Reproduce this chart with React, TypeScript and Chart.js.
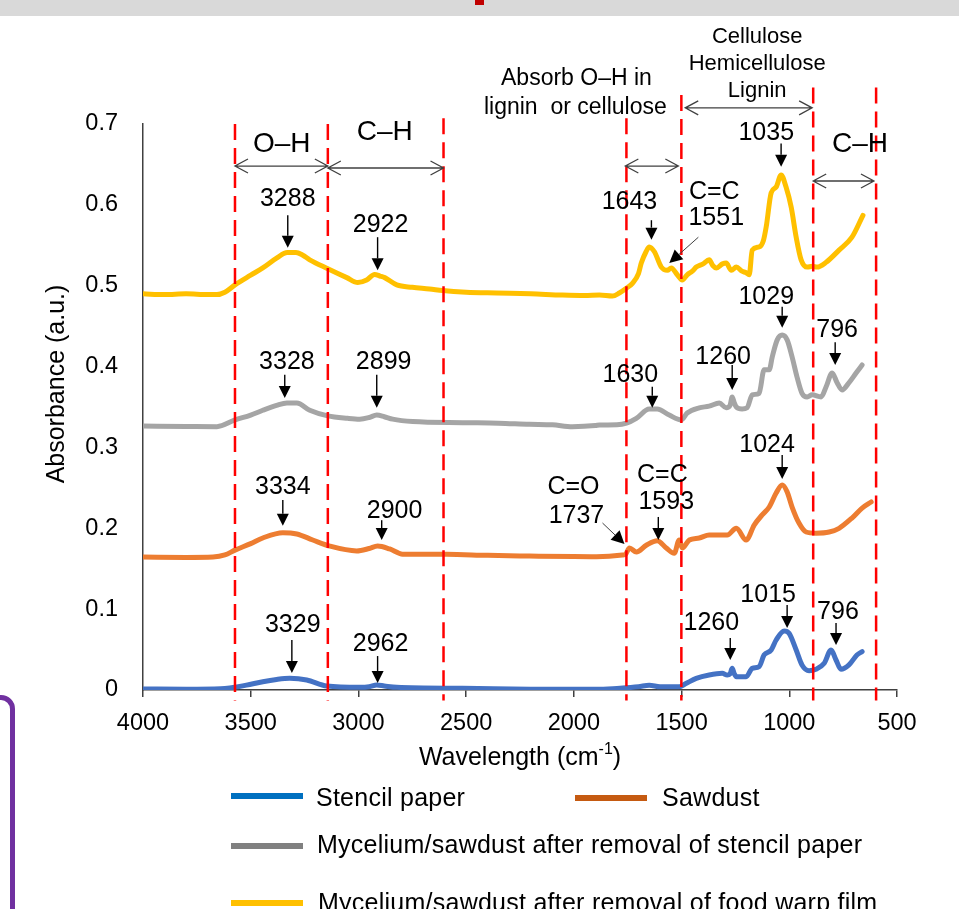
import React, { useEffect, useRef } from 'react';
import { Chart, registerables } from 'chart.js';

Chart.register(...registerables);

const FONT = '"Liberation Sans", Arial, Helvetica, sans-serif';

// ---- axis ticks ----
const xTicks = [500, 1000, 1500, 2000, 2500, 3000, 3500, 4000];
const xTickLabels = ['500', '1000', '1500', '2000', '2500', '3000', '3500', '4000'];
const yTicks = [0, 0.1, 0.2, 0.3, 0.4, 0.5, 0.6, 0.7];
const yTickLabels = ['0', '0.1', '0.2', '0.3', '0.4', '0.5', '0.6', '0.7'];

// ---- series ----
const seriesNames = [
  'Stencil paper',
  'Sawdust',
  'Mycelium/sawdust after removal of stencil paper',
  'Mycelium/sawdust after removal of food warp film',
];
const lineColors = ['#4472C4', '#ED7D31', '#A5A5A5', '#FFC000'];
const legendColors = ['#0070C0', '#C55A11', '#808080', '#FFC000'];

const stencilWn = [4000, 3800, 3640, 3597, 3520, 3444, 3380, 3319, 3240, 3147, 2994, 2950, 2915, 2880, 2822, 2517, 2200, 1895, 1800, 1700, 1650, 1600, 1511, 1480, 1432, 1372, 1311, 1288, 1275, 1265, 1255, 1246, 1200, 1172, 1140, 1117, 1084, 1061, 1024, 1001, 968, 941, 908, 876, 838, 806, 783, 760, 723, 686, 662];
const stencilAbs = [0.0012, 0.001, 0.0015, 0.0025, 0.006, 0.0103, 0.013, 0.0144, 0.0124, 0.0049, 0.0033, 0.004, 0.0062, 0.005, 0.0033, 0.0021, 0.001, 0.0008, 0.002, 0.004, 0.006, 0.004, 0.004, 0.008, 0.0144, 0.0186, 0.0206, 0.0186, 0.02, 0.0268, 0.02, 0.0165, 0.0165, 0.0268, 0.0289, 0.0433, 0.0495, 0.0618, 0.073, 0.0701, 0.0495, 0.031, 0.0239, 0.0256, 0.033, 0.0495, 0.0371, 0.0256, 0.031, 0.0433, 0.0474];

const sawdustWn = [4000, 3800, 3675, 3620, 3573, 3500, 3444, 3351, 3286, 3212, 3133, 3008, 2950, 2911, 2855, 2795, 2591, 2400, 2206, 2000, 1895, 1775, 1760, 1742, 1710, 1664, 1613, 1571, 1534, 1511, 1497, 1464, 1418, 1372, 1325, 1288, 1246, 1200, 1163, 1126, 1093, 1061, 1033, 1010, 987, 955, 922, 876, 815, 769, 709, 662, 620];
const sawdustAbs = [0.1645, 0.164, 0.1645, 0.167, 0.173, 0.181, 0.188, 0.1946, 0.193, 0.1855, 0.178, 0.172, 0.175, 0.178, 0.1744, 0.168, 0.1678, 0.1665, 0.1657, 0.165, 0.1649, 0.167, 0.168, 0.1756, 0.1707, 0.179, 0.1846, 0.1756, 0.169, 0.1855, 0.1756, 0.1855, 0.188, 0.1917, 0.1917, 0.1917, 0.2, 0.1855, 0.204, 0.2165, 0.2263, 0.2436, 0.2535, 0.245, 0.2263, 0.2065, 0.1954, 0.194, 0.1954, 0.2, 0.2127, 0.225, 0.2325];

const stencilRemovedWn = [4000, 3800, 3657, 3573, 3500, 3444, 3380, 3332, 3286, 3226, 3142, 3050, 2994, 2950, 2915, 2880, 2841, 2748, 2517, 2350, 2206, 2100, 2007, 1900, 1881, 1800, 1756, 1710, 1650, 1613, 1557, 1501, 1474, 1418, 1372, 1325, 1293, 1275, 1265, 1255, 1246, 1219, 1196, 1172, 1140, 1117, 1093, 1079, 1056, 1033, 1010, 987, 964, 941, 917, 894, 852, 829, 801, 778, 755, 723, 690, 662];
const stencilRemovedAbs = [0.3265, 0.326, 0.3257, 0.334, 0.34, 0.346, 0.352, 0.355, 0.355, 0.346, 0.339, 0.336, 0.335, 0.337, 0.34, 0.338, 0.335, 0.332, 0.3306, 0.33, 0.3286, 0.328, 0.3257, 0.327, 0.3277, 0.328, 0.33, 0.336, 0.3475, 0.3475, 0.34, 0.334, 0.3425, 0.349, 0.351, 0.355, 0.349, 0.352, 0.3625, 0.355, 0.35, 0.3475, 0.349, 0.365, 0.367, 0.396, 0.396, 0.412, 0.433, 0.439, 0.433, 0.412, 0.387, 0.367, 0.3625, 0.365, 0.3625, 0.375, 0.392, 0.38, 0.371, 0.38, 0.392, 0.402];

const filmRemovedWn = [4000, 3900, 3800, 3700, 3657, 3620, 3573, 3500, 3444, 3380, 3330, 3290, 3260, 3226, 3142, 3054, 3003, 2962, 2925, 2900, 2878, 2822, 2750, 2670, 2609, 2500, 2359, 2200, 2053, 1950, 1881, 1821, 1789, 1756, 1728, 1700, 1687, 1665, 1650, 1626, 1594, 1566, 1548, 1520, 1497, 1474, 1450, 1432, 1400, 1372, 1355, 1339, 1310, 1293, 1269, 1246, 1220, 1200, 1186, 1172, 1140, 1120, 1107, 1084, 1061, 1038, 1015, 991, 968, 945, 917, 894, 871, 829, 769, 709, 658];
const filmRemovedAbs = [0.49, 0.489, 0.49, 0.489, 0.489, 0.492, 0.501, 0.513, 0.522, 0.534, 0.541, 0.541, 0.538, 0.532, 0.521, 0.51, 0.504, 0.507, 0.514, 0.512, 0.51, 0.501, 0.498, 0.496, 0.494, 0.492, 0.491, 0.49, 0.4885, 0.488, 0.4885, 0.4873, 0.491, 0.497, 0.503, 0.515, 0.528, 0.542, 0.548, 0.542, 0.523, 0.519, 0.522, 0.5135, 0.507, 0.5135, 0.518, 0.523, 0.527, 0.532, 0.525, 0.522, 0.527, 0.528, 0.519, 0.523, 0.518, 0.516, 0.5135, 0.544, 0.548, 0.556, 0.573, 0.615, 0.622, 0.637, 0.622, 0.597, 0.56, 0.532, 0.523, 0.524, 0.523, 0.529, 0.544, 0.56, 0.587];

// ---- annotations (data units: wavenumber, absorbance) ----
const regionBounds = [3573, 3142, 2605, 1756, 1501, 889, 597];
const regionTops = [0.7, 0.7, 0.707, 0.707, 0.736, 0.745, 0.745];
const regionBottom = -0.013;

// [text, wavenumber, absorbance, font size]
const bandLabels: [string, number, number, number][] = [
  ['O–H', 3356, 0.675, 28],
  ['C–H', 2878, 0.69, 28],
  ['C–H', 672, 0.675, 28],
  ['Absorb O–H in', 1988, 0.756, 23],
  ['lignin  or cellulose', 1993, 0.72, 23],
  ['Cellulose', 1149, 0.808, 22],
  ['Hemicellulose', 1149, 0.774, 22],
  ['Lignin', 1149, 0.741, 22],
  ['C=C', 1348, 0.616, 25],
  ['C=O', 2002, 0.251, 25],
  ['C=C', 1589, 0.266, 25],
];

// [text, wavenumber, absorbance]
const peakLabels: [string, number, number][] = [
  ['3288', 3328, 0.607], ['2922', 2897, 0.575], ['1643', 1742, 0.604], ['1551', 1339, 0.583], ['1035', 1107, 0.689],
  ['3328', 3332, 0.406], ['2899', 2883, 0.406], ['1630', 1738, 0.39], ['1260', 1307, 0.412], ['1029', 1107, 0.486], ['796', 778, 0.445],
  ['3334', 3351, 0.251], ['2900', 2832, 0.221], ['1737', 1988, 0.215], ['1593', 1571, 0.2325], ['1024', 1103, 0.303],
  ['3329', 3305, 0.08], ['2962', 2897, 0.057], ['1260', 1362, 0.083], ['1015', 1098, 0.1175], ['796', 774, 0.0965],
];

// [wn start, abs start, wn tip, abs tip]
const peakArrows: [number, number, number, number][] = [
  [3328, 0.587, 3328, 0.547], [2911, 0.56, 2911, 0.519], [1038, 0.676, 1038, 0.647], [1640, 0.581, 1640, 0.557],
  [1033, 0.474, 1033, 0.448], [1265, 0.402, 1265, 0.371], [1636, 0.375, 1636, 0.349], [787, 0.43, 787, 0.402],
  [3342, 0.39, 3342, 0.361], [2915, 0.39, 2915, 0.349],
  [3351, 0.235, 3351, 0.203], [2892, 0.21, 2892, 0.1855], [1033, 0.2906, 1033, 0.261], [1608, 0.214, 1608, 0.1855],
  [3309, 0.0618, 3309, 0.021], [2911, 0.042, 2911, 0.0087], [1274, 0.0643, 1274, 0.0371], [1010, 0.105, 1010, 0.0767], [783, 0.083, 783, 0.0557],
];
const leaderArrows: [number, number, number, number][] = [
  [1422, 0.56, 1557, 0.528],
  [1867, 0.2065, 1765, 0.1806],
];
// [wn from, wn to, absorbance]
const rangeArrows: [number, number, number][] = [
  [3573, 3142, 0.648],
  [3142, 2605, 0.6456],
  [1761, 1515, 0.648],
  [1483, 894, 0.72],
  [889, 607, 0.6295],
];

const drawHead = (ctx: CanvasRenderingContext2D, x1: number, y1: number, x2: number, y2: number, len: number, half: number) => {
  const dx = x2 - x1, dy = y2 - y1;
  const d = Math.hypot(dx, dy) || 1;
  const ux = dx / d, uy = dy / d;
  const bx = x2 - ux * len, by = y2 - uy * len;
  ctx.beginPath();
  ctx.moveTo(x2, y2);
  ctx.lineTo(bx - uy * half, by + ux * half);
  ctx.lineTo(bx + uy * half, by - ux * half);
  ctx.closePath();
  ctx.fill();
  return [bx, by];
};

const annotationPlugin = {
  id: 'ftirAnnotations',
  afterDatasetsDraw(chart: any) {
    const { ctx, scales, chartArea } = chart;
    const px = (w: number) => scales.x.getPixelForValue(w);
    const py = (a: number) => scales.y.getPixelForValue(a);
    ctx.save();

    // red dashed region boundaries
    ctx.strokeStyle = '#FF0000';
    ctx.lineWidth = 2.5;
    ctx.setLineDash([16, 8]);
    regionBounds.forEach((w, i) => {
      ctx.beginPath();
      ctx.moveTo(px(w), py(regionTops[i]));
      ctx.lineTo(px(w), py(regionBottom));
      ctx.stroke();
    });
    ctx.setLineDash([]);

    // double-headed range arrows
    ctx.strokeStyle = '#404040';
    ctx.lineWidth = 1.3;
    rangeArrows.forEach(([w1, w2, a]) => {
      const x1 = px(w1), x2 = px(w2), y = py(a);
      const l = Math.min(x1, x2), r = Math.max(x1, x2);
      ctx.beginPath();
      ctx.moveTo(l, y); ctx.lineTo(r, y);
      ctx.moveTo(l + 13, y - 7); ctx.lineTo(l, y); ctx.lineTo(l + 13, y + 7);
      ctx.moveTo(r - 13, y - 7); ctx.lineTo(r, y); ctx.lineTo(r - 13, y + 7);
      ctx.stroke();
    });

    // peak arrows
    ctx.fillStyle = '#000';
    ctx.strokeStyle = '#000';
    ctx.lineWidth = 1.4;
    peakArrows.forEach(([w1, a1, w2, a2]) => {
      const x1 = px(w1), y1 = py(a1), x2 = px(w2), y2 = py(a2);
      const [bx, by] = drawHead(ctx, x1, y1, x2, y2, 12, 6);
      ctx.beginPath(); ctx.moveTo(x1, y1); ctx.lineTo(bx, by); ctx.stroke();
    });
    leaderArrows.forEach(([w1, a1, w2, a2]) => {
      const x1 = px(w1), y1 = py(a1), x2 = px(w2), y2 = py(a2);
      const [bx, by] = drawHead(ctx, x1, y1, x2, y2, 13, 6.5);
      ctx.strokeStyle = '#404040';
      ctx.lineWidth = 1;
      ctx.beginPath(); ctx.moveTo(x1, y1); ctx.lineTo(bx, by); ctx.stroke();
    });

    // texts
    ctx.fillStyle = '#000';
    ctx.textAlign = 'center';
    ctx.textBaseline = 'middle';
    bandLabels.forEach(([t, w, a, s]) => {
      ctx.font = `${s}px ${FONT}`;
      ctx.fillText(t, px(w), py(a));
    });
    ctx.font = `25px ${FONT}`;
    peakLabels.forEach(([t, w, a]) => ctx.fillText(t, px(w), py(a)));

    // axis titles
    ctx.font = `25px ${FONT}`;
    ctx.save();
    ctx.translate(chartArea.left - 86, (chartArea.top + chartArea.bottom) / 2 - 23);
    ctx.rotate(-Math.PI / 2);
    ctx.fillText('Absorbance (a.u.)', 0, 0);
    ctx.restore();

    const main = 'Wavelength (cm';
    const sup = '-1';
    const close = ')';
    ctx.font = `25px ${FONT}`;
    const wMain = ctx.measureText(main).width;
    const wClose = ctx.measureText(close).width;
    ctx.font = `16px ${FONT}`;
    const wSup = ctx.measureText(sup).width;
    const total = wMain + wSup + wClose;
    let sx = (chartArea.left + chartArea.right) / 2 - total / 2;
    const ty = chartArea.bottom + 68;
    ctx.textAlign = 'left';
    ctx.font = `25px ${FONT}`;
    ctx.fillText(main, sx, ty);
    sx += wMain;
    ctx.font = `16px ${FONT}`;
    ctx.fillText(sup, sx, ty - 8);
    sx += wSup;
    ctx.font = `25px ${FONT}`;
    ctx.fillText(close, sx, ty);

    ctx.restore();
  },
};

const toPoints = (wn: number[], abs: number[]) => wn.map((x, i) => ({ x, y: abs[i] }));

export default function App() {
  const ref = useRef<HTMLCanvasElement>(null);

  useEffect(() => {
    if (!ref.current) return;
    const seriesData = [
      toPoints(stencilWn, stencilAbs),
      toPoints(sawdustWn, sawdustAbs),
      toPoints(stencilRemovedWn, stencilRemovedAbs),
      toPoints(filmRemovedWn, filmRemovedAbs),
    ];
    const chart = new Chart(ref.current, {
      type: 'line',
      data: {
        datasets: seriesData.map((d, i) => ({
          label: seriesNames[i],
          data: d,
          borderColor: lineColors[i],
          backgroundColor: lineColors[i],
          borderWidth: 5,
          pointRadius: 0,
          cubicInterpolationMode: 'monotone' as const,
          borderJoinStyle: 'round' as const,
          borderCapStyle: 'round' as const,
          fill: false,
        })),
      },
      options: {
        responsive: false,
        animation: false,
        layout: { padding: { left: 0, right: 62, top: 124, bottom: 137 } },
        plugins: { legend: { display: false }, tooltip: { enabled: false } },
        scales: {
          x: {
            type: 'linear',
            reverse: true,
            min: 500,
            max: 4000,
            afterBuildTicks: (s: any) => { s.ticks = xTicks.map((v) => ({ value: v })); },
            afterFit: (s: any) => { s.height = 82; },
            ticks: {
              callback: (_v: any, i: number) => xTickLabels[i],
              font: { family: FONT, size: 23.5 },
              color: '#000',
              padding: 12,
              maxRotation: 0,
              autoSkip: false,
            },
            grid: { display: true, drawOnChartArea: false, drawTicks: true, tickLength: 7, color: '#404040', lineWidth: 1.5 },
            border: { display: true, color: '#404040', width: 1.5 },
          },
          y: {
            type: 'linear',
            min: 0,
            max: 0.7,
            afterBuildTicks: (s: any) => { s.ticks = yTicks.map((v) => ({ value: v })); },
            afterFit: (s: any) => { s.width = 143; },
            ticks: {
              callback: (_v: any, i: number) => yTickLabels[i],
              font: { family: FONT, size: 23.5 },
              color: '#000',
              padding: 25,
            },
            grid: { display: false, drawTicks: false },
            border: { display: true, color: '#404040', width: 1.5 },
          },
        },
      },
      plugins: [annotationPlugin],
    } as any);
    return () => chart.destroy();
  }, []);

  const legendText = { position: 'absolute' as const, fontSize: 25, lineHeight: '26px', height: 26, whiteSpace: 'nowrap' as const, color: '#000', letterSpacing: '0.25px' };
  const sample = (color: string, left: number, cy: number) => (
    <div style={{ position: 'absolute', left, top: cy - 3, width: 72, height: 6, background: color }} />
  );

  return (
    <div style={{ position: 'absolute', left: 0, top: 0, width: 959, height: 909, overflow: 'hidden', background: '#fff', fontFamily: FONT }}>
      <div style={{ position: 'absolute', left: 0, top: 0, width: 959, height: 16, background: '#d9d9d9' }} />
      <div style={{ position: 'absolute', left: 475, top: 0, width: 9, height: 5, background: '#c00000' }} />
      <div style={{ position: 'absolute', left: -40, top: 695, width: 55, height: 400, border: '5px solid #7030a0', borderRadius: 14, boxSizing: 'border-box' }} />
      <canvas ref={ref} width={959} height={909} style={{ position: 'absolute', left: 0, top: 0 }} />
      {sample(legendColors[0], 231, 796)}
      <div style={{ ...legendText, left: 316, top: 797 - 13 }}>{seriesNames[0]}</div>
      {sample(legendColors[1], 575, 798)}
      <div style={{ ...legendText, left: 662, top: 797 - 13 }}>{seriesNames[1]}</div>
      {sample(legendColors[2], 231, 846)}
      <div style={{ ...legendText, left: 317, top: 844 - 13 }}>{seriesNames[2]}</div>
      {sample(legendColors[3], 231, 903)}
      <div style={{ ...legendText, left: 318, top: 902 - 13 }}>{seriesNames[3]}</div>
    </div>
  );
}
